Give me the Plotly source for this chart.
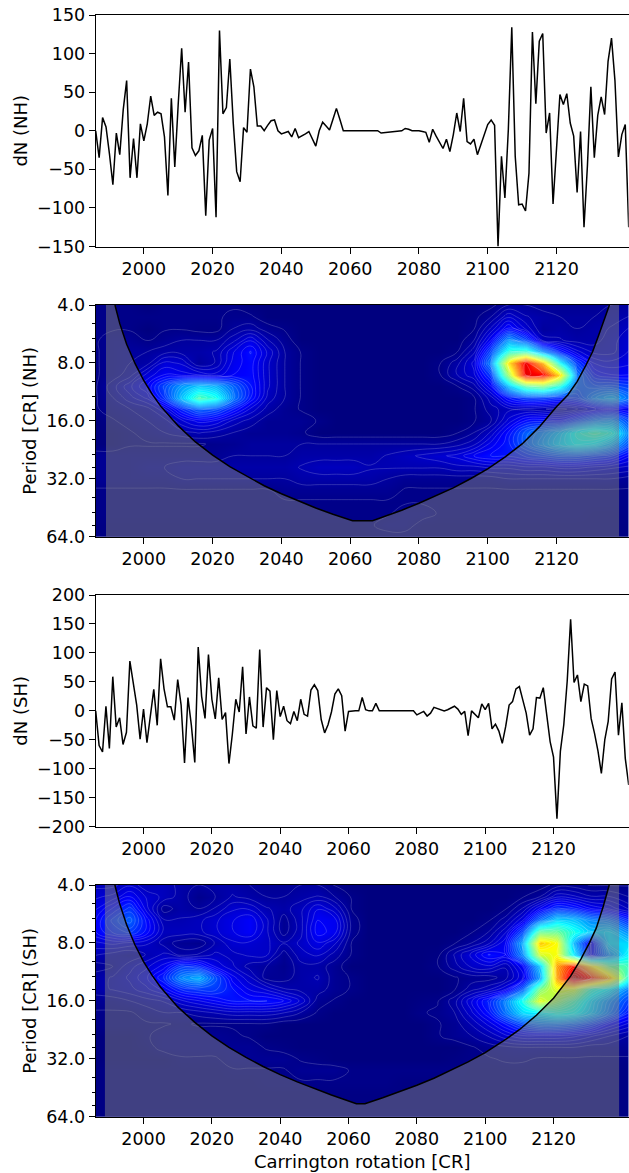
import math
import plotly.graph_objects as go
from plotly.subplots import make_subplots

nh_dn = [0,-35,17,5,-30,-70,-3,-31,27,65,-61,-10,-61,9,-13,9,45,20,24,22,-8,-84,42,-47,35,107,24,89,-22,-32,-26,-6,-110,-12,3,-112,130,22,30,93,10,-53,-66,4,-2,80,57,6,6,0,7,13,14,0,-4,-2,-1,-8,3,-9,-7,-4,-1,-10,-20,0,11,6,1,15,29,15,0,0,0,0,0,0,0,0,0,0,0,-3,-2.5,-2,-1.5,-1,-0.5,0,3,2,0,0,0,-1,-2,-15,2,-7,-15,-23,-11,-27,-5,23,-1,42,-14,-17,-11,-31,-18,-6,8,14,7,-150,-33,-87,2,134,-33,-96,-95,-104,-55,128,35,116,126,-3,23,-95,-25,47,34,48,10,-7,-80,-1,-125,-45,57,-35,20,44,21,90,120,65,-34,-5,8,-125]
sh_dn = [0,-60,-71,8,-65,59,-28,-12,-58,-37,86,50,10,-49,3,-55,-10,37,-25,90,38,7,7,-16,54,10,-90,23,-25,-89,110,25,-13,97,20,-14,57,-15,-3,-91,-40,20,-2,76,-40,24,-26,-30,106,-28,40,34,-50,35,-10,8,-17,-22,-1,-17,20,-6,-9,36,45,35,-15,-38,-24,-2,29,38,26,-35,-1,0,0,0,23,2,0,0,13,0,0,0,0,0,0,0,0,0,0,0,-7,-4,-1,-9,-4,6,4,2,0,2,5,8,3,-6,-1,-43,0,-7,-12,12,2,13,-31,-23,-35,-56,-27,10,16,38,42,19,-4,-42,-31,23,22,40,-7,-53,-80,-186,-70,-24,51,158,49,62,16,46,43,-13,-39,-69,-108,-50,-18,55,67,-42,14,-82,-128]

power_cr = [1986,1991,1996,2001,2006,2011,2016,2021,2026,2031,2036,2041,2046,2051,2056,2061,2066,2071,2076,2081,2086,2091,2096,2101,2106,2111,2116,2121,2126,2131,2136,2142]
power_period = [4,4.6,5.3,6.1,7,8,9.2,10.6,12.1,13.9,16,18.4,21.1,24.3,27.9,32,36.8,42.2,48.5,55.7,64]

nh_power = [
[1,1,1,0,1,1,1,1,1,0,0,0,0,0,0,0,0,0,0,0,0,0,0,0.5,3,3,2,2,2,2,3,3],
[1,1,1,1,1,1,1,1,1.5,1.5,0,0,0,0,0,0,0,0,0,0,0,0,0.5,3,8,5,4,3,3,3,4,5],
[1,1,1,0,1,1,0.5,0.5,3,4,2,1,0,0,0,0,0,0,0,0,0,0,1,7,14,8,3,4,3,4,5,7],
[1,2,2,1,2,3,3,3,6,10,5,2,0,0,0,0,0,0,0,0,0,0,3,12,28,20,6,5,4,4,6,8],
[1,2,3,3,4,4,4,5,10,14,8,3,1,0,0,0,0,0,0,0,0,1,6,20,42,44,28,16,9,6,6,9],
[1,2,3,4,9,8,3,5,11,13,7,3,1,0,0,0,0,0,0,0,1,4,9,26,66,90,70,38,18,10,9,10],
[1,2,4,9,12,11,10,9,12,13,7,3,1,0,0,0,0,0,0,0,1,5,8,18,54,90,88,66,24,14,12,12],
[1,4,8,12,20,28,32,30,22,14,7,3,1,0,0,0,0,0,0,0,0,1,4,12,32,46,50,40,22,20,20,18],
[1,3,6,9,18,32,45,40,24,14,6,3,1,0,0,0,0,0,0,0,0,0,1,6,14,18,18,16,18,26,30,22],
[1,2,3,4,8,16,22,20,14,8,4,2,1,0,0,0,0,0,0,0,0,0,1,4,6,6,5,4,6,10,12,10],
[0,1,2,3,4,8,11,10,6,4,2,2,2,1,0,0,0,0,0,0,0,0,1,3,9,14,15,14,20,26,28,18],
[0,0,1,2,3,4,5,4,3,2,2,2,1.5,0,0,0,0,0,0,0,0,1,3,7,14,22,26,32,40,44,40,22],
[0,0,1,1,1,1,1,1.5,2,3,3,3,3,3,3,3,3,3,3,3,3,4,6,11,15,22,28,34,38,36,30,18],
[2,2,2,2,2,2,2,2,3,3,3,3,4,4,4,4,4,5,6,7,8,9,12,14,14,16,18,20,20,18,16,10],
[2,2,2,3,3,4,4,4,4,4,4,4,5,6,6,6,5,5,5,5,5,6,6,7,7,8,8,9,9,8,7,6],
[2,2,2,2,2,3,3,3,3,3,3,3,4,4,4,4,4,3,2,2,2,2,2,2,3,3,3,3,3,3,3,2],
[1,1,1,1,1,1,1,1,1,1,1,2,2,2,2,2,2,2,1,1,1,1,1,1,1,1,1,1,1,1,1,1],
[1,1,1,1,1,1,1,1,1,1,1,1,1,1,1,1,1,1,1,1,1,1,1,1,1,1,1,1,1,1,1,1],
[1,1,1,1,1,1,1,1,1,1,1,1,1,1,1,1,1,1,2,2,1,1,1,1,1,1,1,1,1,0.5,0.5,1],
[0.5,0.5,0.5,0.5,0.5,0.5,0.5,0.5,0.5,0.5,0.5,0.5,0.5,0.5,0.5,0.5,1,2,2,0.5,0.5,0.5,0.5,0.5,0.5,0.5,0.5,0.5,0.5,0.5,0.5,0.5],
[0.5,0.5,0.5,0.5,0.5,0.5,0.5,0.5,0.5,0.5,0.5,0.5,0.5,0.5,0.5,0.5,0.5,0.5,0.5,0.5,0.5,0.5,0.5,0.5,0.5,0.5,0.5,0.5,0.5,0.5,0.5,0.5],
]

sh_power = [
[6,6,8,5,6,4,3,4,4,3,2,2,3,3,1,0,0,0,0,0,0,0,0,0,0,0,0,2,2,1,1,1],
[8,9,12,8,6,4,1.5,3,5,4,3,3,4,5,3,1,0,0,0,0,0,0,0,0,0,1,3,8,7,5,5,3],
[10,14,18,9,2,4,3,5,8,8,5,4,6,10,7,1,0,0,0,0,0,0,0,0,1,5,12,18,16,12,10,6],
[12,18,22,13,5,5,6,8,10,12,7,2,6,12,11,2,0,0,0,0,0,0,0,1,4,10,24,34,32,26,24,16],
[12,16,18,13,6,6,6,8,10,12,7,2,6,13,11,2,0,0,0,0,0,0,1,3,8,20,48,48,40,32,34,26],
[8,9,8,7,4,2,1.5,5,8,8,7,5,7,10,7,1,0,0,0,0,0,1,3,6,12,30,68,62,30,10,34,34],
[5,4,3,5,7,4,5,7,6,7,7,2,6,7,4,1,0,0,0,0,0.5,5,9,14,12,26,58,62,36,12,26,38],
[2,3,6,8,11,18,16,10,7,4,3,1.5,4,4,2,0,0,0,0,0,1,4,7,8,5,12,32,72,86,66,48,44],
[4,5,7,10,16,26,30,20,11,7,2,2,4,5,2,1,0,0,0,0,0,1,2,2,4,10,28,72,96,86,70,40],
[4,5,6,8,11,16,18,18,14,10,8,5,4,4,2,1,0,0,0,0,0,1,4,6,10,22,50,60,58,42,36,24],
[2,2,3,4,5,8,10,12,14,14,14,12,8,2,1,0,0,0,0,0.5,1,4,10,16,26,40,60,52,44,34,26,18],
[1,1,1,2,3,3,4,5,6,6,6,5,3,1,0,0,0,0,0,1,1.5,3,8,14,24,34,36,40,38,32,24,14],
[1,1,1,1,1,1.5,1,1,1,1,1,0,0,0,0,0,0,0,0,0,1,2,5,9,14,20,24,24,22,18,12,8],
[0,0,0,1,2,2,2,2,1.5,1,0,0,0,0,0,0,0,0,0,0,1,2,3,5,8,10,10,10,9,7,5,3],
[0,0,0,0.5,2,2,2,2,2,2,1,0.5,0,0,0,0,0,0,0,0,0,0,1,2,2.5,3,3,3,3,2,2,2],
[0,0,0,0,0,1,1,1,2,2,2,2,1,0.5,0,0,0,0,0,0,0,0.5,1,1,1.5,1.5,1,1,1,1,1,1],
[0.5,0.5,0.5,0.5,0.5,0.5,0.5,0.5,1,1,1,1,2,2,2,1,1,1,1,1,1,1,0.5,0.5,0.5,0.5,0.5,0.5,0.5,0.5,0.5,0.5],
[0.5,0.5,0.5,0.5,0.5,0.5,0.5,0.5,0.5,0.5,1,1,1,1,1,1,1,1,0.5,0.5,0.5,0.5,0.5,0.5,0.5,0.5,0.5,0.5,0.5,0.5,0.5,0.5],
[0.5,0.5,0.5,0.5,0.5,0.5,0.5,0.5,0.5,0.5,0.5,0.5,0.5,0.5,0.5,0.5,0.5,0.5,0.5,0.5,0.5,0.5,0.5,0.5,0.5,0.5,0.5,0.5,0.5,0.5,0.5,0.5],
[0.5,0.5,0.5,0.5,0.5,0.5,0.5,0.5,0.5,0.5,0.5,0.5,0.5,0.5,0.5,0.5,0.5,0.5,0.5,0.5,0.5,0.5,0.5,0.5,0.5,0.5,0.5,0.5,0.5,0.5,0.5,0.5],
[0.5,0.5,0.5,1,1,1,1,1,1,1,1,1,1,1,1,1,1,1,1,1,0.5,0.5,0.5,0.5,0.5,0.5,0.5,0.5,0.5,0.5,0.5,0.5],
]

nh_coi_cr = [1989,1989,1991.6,1993,1995,1997.5,2000,2002.5,2005,2010,2015,2020,2025,2030,2035,2040,2045,2050,2055,2060.7,2066.5,2070,2075,2080,2085,2090,2095,2100,2105,2110,2115,2120,2123.3,2126,2128.6,2130.5,2132.3,2134,2135.4,2138.2,2138.2]
nh_coi_period = [64,4,4,5,6.4,8.1,9.9,11.7,13.5,17,20.6,24.1,27.7,31.2,34.8,38.3,41.8,45.4,48.9,52.9,52.9,50.3,46.6,42.9,39.3,35.7,32,28.4,24.7,21.1,17.2,13.5,11.75,10,8.2,7,5.73,4.7,4,4,64]
sh_coi_cr = [1988.7,1988.7,1991.6,1993,1995,1997.5,2000,2002.5,2005,2010,2015,2020,2025,2030,2035,2040,2045,2050,2055,2062.3,2064.8,2070,2075,2080,2085,2090,2095,2100,2105,2110,2115,2120,2125,2128,2130.5,2132.5,2134.5,2136.3,2139.2,2139.2]
sh_coi_period = [64,4,4,5,6.4,8.2,10,11.8,13.6,17.2,20.7,24.3,27.9,31.5,35.1,38.7,42.2,45.8,49.4,54.8,54.8,51,47.5,43.9,40.4,36.8,33.2,29.7,26.1,22.6,19,15.5,11.9,9.7,8,6.7,5.2,4,4,64]

dn_ticks_nh = [-150,-100,-50,0,50,100,150]
dn_ticks_sh = [-200,-150,-100,-50,0,50,100,150,200]
cr_ticks = [2000,2020,2040,2060,2080,2100,2120]
period_ticks = [4,8,16,32,64]
period_labels = ["4.0","8.0","16.0","32.0","64.0"]
period_minor = [5,6,7,10,12,14,20,24,28,40,48,56]

for m in (nh_power, sh_power):
    assert len(m) == len(power_period)
    for r in m:
        assert len(r) == len(power_cr), r

JET = [[0,"rgb(0,0,127)"],[0.125,"rgb(0,0,255)"],[0.375,"rgb(0,255,255)"],
       [0.625,"rgb(255,255,0)"],[0.875,"rgb(255,0,0)"],[1,"rgb(127,0,0)"]]
FONT = "DejaVu Sans"
W, H = 629, 1173
L, R = 95.7, 628.7
panels = [(15, 246.5), (305, 536.7), (595, 826.7), (885, 1116.7)]

fig = make_subplots(rows=4, cols=1)

def line_panel(row, vals):
    fig.add_trace(go.Scatter(x=list(range(1986, 1986 + len(vals))), y=vals, mode="lines",
                             line=dict(color="black", width=1.5), showlegend=False), row=row, col=1)

def power_panel(row, z, cx, cy):
    fig.add_trace(go.Heatmap(x=power_cr, y=power_period, z=z, zmin=0, zmax=100, zsmooth="best",
                             colorscale=JET, showscale=False), row=row, col=1)
    fig.add_trace(go.Contour(x=power_cr, y=power_period, z=z, zmin=0, zmax=100, showscale=False,
                             colorscale=JET,
                             contours=dict(coloring="none", start=1.2, end=100, size=1.8),
                             line=dict(color="rgba(255,255,255,0.3)", width=0.6, smoothing=1.3)),
                  row=row, col=1)
    fig.add_trace(go.Scatter(x=cx, y=cy, mode="lines", fill="toself",
                             fillcolor="rgba(128,128,128,0.5)", line=dict(width=0),
                             showlegend=False, hoverinfo="skip"), row=row, col=1)
    fig.add_trace(go.Scatter(x=cx[2:-2], y=cy[2:-2], mode="lines", line=dict(color="black", width=1.5),
                             showlegend=False, hoverinfo="skip"), row=row, col=1)

line_panel(1, nh_dn)
power_panel(2, nh_power, nh_coi_cr, nh_coi_period)
line_panel(3, sh_dn)
power_panel(4, sh_power, sh_coi_cr, sh_coi_period)

axis_common = dict(showgrid=False, zeroline=False, showline=True, mirror=True, linecolor="black", linewidth=1,
                   ticks="outside", ticklen=6, tickwidth=1, tickcolor="black",
                   tickfont=dict(family=FONT, size=17.5, color="black"), automargin=False)
title_font = dict(family=FONT, size=18, color="black")
x_ranges = [[1986, 2141], [1986, 2141], [1986, 2142], [1986, 2142]]
for i, (top, bot) in enumerate(panels, start=1):
    fig.update_xaxes(row=i, col=1, domain=[L / W, R / W], range=x_ranges[i - 1], tickmode="array", tickvals=cr_ticks,
                     **axis_common)
    fig.update_yaxes(row=i, col=1, domain=[1 - bot / H, 1 - top / H], **axis_common)

fig.update_yaxes(row=1, col=1, range=[-150, 150], tickmode="array", tickvals=dn_ticks_nh,
                 title=dict(text="dN (NH)", font=title_font, standoff=4))
fig.update_yaxes(row=3, col=1, range=[-200, 200], tickmode="array", tickvals=dn_ticks_sh,
                 title=dict(text="dN (SH)", font=title_font, standoff=4))
for row, lab in ((2, "Period [CR] (NH)"), (4, "Period [CR] (SH)")):
    fig.update_yaxes(row=row, col=1, type="log", range=[math.log10(64), math.log10(4)], tickmode="array",
                     tickvals=period_ticks, ticktext=period_labels,
                     minor=dict(tickmode="array", tickvals=period_minor, ticks="outside", ticklen=3, tickwidth=1, tickcolor="black"),
                     title=dict(text=lab, font=title_font, standoff=4))
fig.update_xaxes(row=4, col=1, title=dict(text="Carrington rotation [CR]", font=title_font, standoff=7))

fig.update_layout(width=W, height=H, margin=dict(l=0, r=0, t=0, b=0), plot_bgcolor="white", paper_bgcolor="white",
                  font=dict(family=FONT, size=17.5, color="black"), showlegend=False)
fig.write_html("out.html", config={"displayModeBar": False},
               post_script="document.body.style.margin='0';document.documentElement.style.overflow='hidden';")
